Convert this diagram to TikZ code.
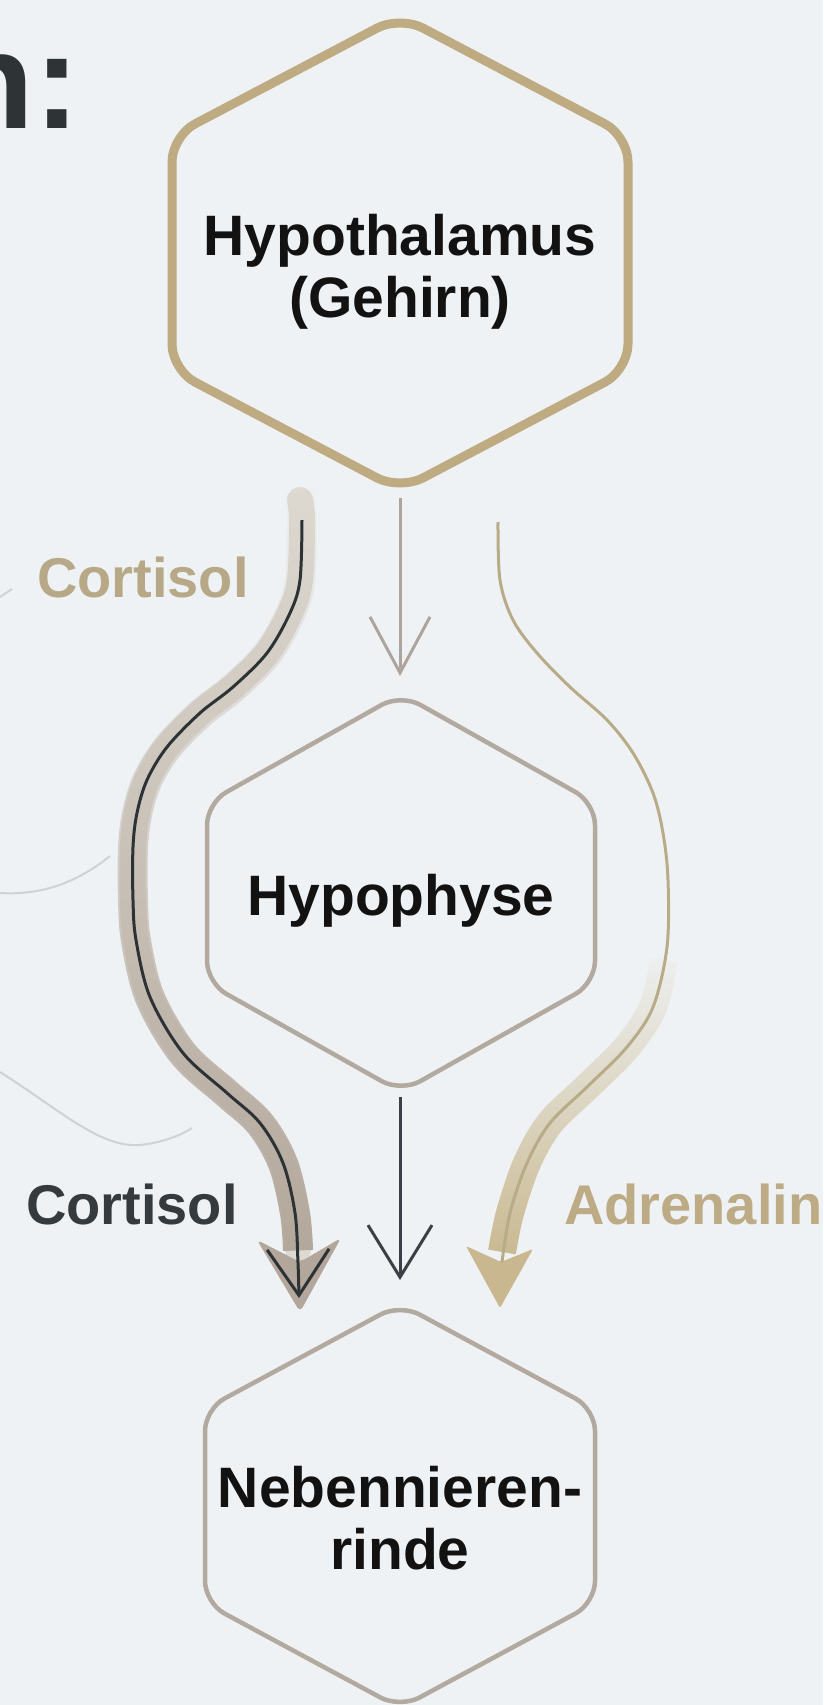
\documentclass[tikz,border=0pt]{standalone}
\usepackage{fontspec}
\setmainfont{Liberation Sans}
\usetikzlibrary{arrows.meta,fadings}
\definecolor{bg}{HTML}{EFF2F4}
\definecolor{hypc}{HTML}{BFAB82}
\definecolor{grayc}{HTML}{B2A9A0}
\definecolor{ink}{HTML}{121212}
\definecolor{titlec}{HTML}{2E3336}
\definecolor{tanlbl}{HTML}{B7A987}
\definecolor{darklbl}{HTML}{343A3E}
\definecolor{adrlbl}{HTML}{BCAB85}
\definecolor{toparr}{HTML}{ADA59D}
\definecolor{midarr}{HTML}{3A4045}
\definecolor{darkline}{HTML}{2C3236}
\definecolor{bandlight}{HTML}{DEDAD2}
\definecolor{banddark}{HTML}{B3A79B}
\definecolor{tanline}{HTML}{B8AB88}
\definecolor{tanband}{HTML}{C9B88F}
\definecolor{faintc}{HTML}{CDD2D5}
\tikzset{
  hexgold/.style={draw=hypc, line width=9pt, rounded corners=26pt},
  hexgray/.style={draw=grayc, line width=4.5pt, rounded corners=22pt},
  nodetext/.style={font=\fontsize{57}{62}\selectfont\bfseries, text=ink, align=center, inner sep=0pt},
  lbl/.style={font=\fontsize{56}{62}\selectfont\bfseries, inner sep=0pt, anchor=base west},
  faint/.style={draw=faintc, line width=2pt},
  toparrow/.style={draw=toparr, line width=3pt, -{Straight Barb[length=56pt,width=60pt]}},
  midarrow/.style={draw=midarr, line width=3pt, -{Straight Barb[length=52pt,width=64pt]}},
  cortline/.style={draw=darkline, line width=3pt, -{Straight Barb[length=46pt,width=62pt]}},
  adrline/.style={draw=tanline, line width=3pt},
}
\newcommand\hexa[6]{%
  \draw[#6] (#1-#3,#2) -- (#1-#3,#2-#5) -- (#1,#2-#4) -- (#1+#3,#2-#5)
    -- (#1+#3,#2+#5) -- (#1,#2+#4) -- (#1-#3,#2+#5) -- cycle;}
\begin{document}
\begin{tikzpicture}[x=1pt,y=-1pt]
\useasboundingbox (0,0) rectangle (823,1705);
\fill[bg] (0,0) rectangle (823,1705);
\begin{scope}
\clip (0,0) rectangle (823,1705);

% title fragment
\node[font=\fontsize{137}{140}\selectfont\bfseries, text=titlec, inner sep=0pt, anchor=base east] (title) at (80,128) {n:};

% faint background curves
\draw[faint] (0,597) -- (12,589);
\draw[faint] (0,893) .. controls (50,896) and (85,876) .. (110,856);
\draw[faint] (0,1072) .. controls (60,1110) and (100,1148) .. (140,1145) .. controls (160,1143) and (180,1136) .. (192,1128);

% bands
\draw[draw=bandlight, line width=26pt, line cap=round] plot[smooth, tension=0.55] coordinates {(300,500) (302,520) (300,580) (290,613) (267,653) (233,687) (200,713) (167,747) (147,780) (137,813) (133,847) (133,900) (136,940) (150,997) (183,1053) (227,1093) (260,1123) (283,1163) (295,1213) (298,1250)};
\draw[draw=banddark, line width=30pt, path fading=north] plot[smooth, tension=0.55] coordinates {(300,490) (302,520) (300,580) (290,613) (267,653) (233,687) (200,713) (167,747) (147,780) (137,813) (133,847) (133,900) (136,940) (150,997) (183,1053) (227,1093) (260,1123) (283,1163) (295,1213) (298,1250)};
\draw[draw=tanband, line width=28pt, path fading=north] plot[smooth, tension=0.55] coordinates {(664,960) (653,1007) (627,1047) (587,1087) (550,1123) (527,1163) (510,1213) (502,1252)};

% arrowhead patches
\fill[banddark, rounded corners=5pt] (257,1240) -- (300,1312) -- (341,1238) -- (300,1262) -- cycle;
\fill[tanband, rounded corners=2pt] (466,1246) -- (500,1308) -- (533,1249) -- (501,1262) -- cycle;

% hexagons
\hexa{400}{253}{228}{237}{117}{hexgold}
\hexa{401}{893}{194}{199}{90}{hexgray}
\hexa{400}{1506}{195}{202}{97}{hexgray}

% nodes
\node[nodetext] (hyp) at (400,272) {Hypothalamus\\(Gehirn)};
\node[nodetext, anchor=base] (hypo) at (401,915) {Hypophyse};
\node[nodetext] (nnr) at (400,1518) {Nebennieren-\\rinde};

% connector end points
\coordinate (hypS) at (400,498);
\coordinate (hypoN) at (400,676);
\coordinate (hypoS) at (400,1097);
\coordinate (nnrN) at (400,1280);
\coordinate (cortS) at (302,520);
\coordinate (cortE) at (299,1298);
\coordinate (adrS) at (498,522);
\coordinate (adrE) at (502,1262);

% straight arrows
\draw[toparrow] (hypS) -- (hypoN);
\draw[midarrow] (hypoS) -- (nnrN);

% curved arrows
\draw[cortline] plot[smooth, tension=0.55] coordinates {(cortS) (300,580) (290,613) (267,653) (233,687) (200,713) (167,747) (147,780) (137,813) (133,847) (133,900) (136,940) (150,997) (183,1053) (227,1093) (260,1123) (283,1163) (295,1213) (298,1263) (cortE)};
\draw[adrline] plot[smooth, tension=0.55] coordinates {(adrS) (500,580) (513,620) (537,653) (570,687) (607,720) (633,753) (653,793) (663,833) (668,880) (667,947) (653,1007) (627,1047) (587,1087) (550,1123) (527,1163) (510,1213) (adrE)};

% labels
\node[lbl, text=tanlbl] (lcort1) at (37,597) {Cortisol};
\node[lbl, text=darklbl] (lcort2) at (26,1224) {Cortisol};
\node[lbl, text=adrlbl] (ladr) at (564,1224) {Adrenalin};
\end{scope}
\end{tikzpicture}
\end{document}
